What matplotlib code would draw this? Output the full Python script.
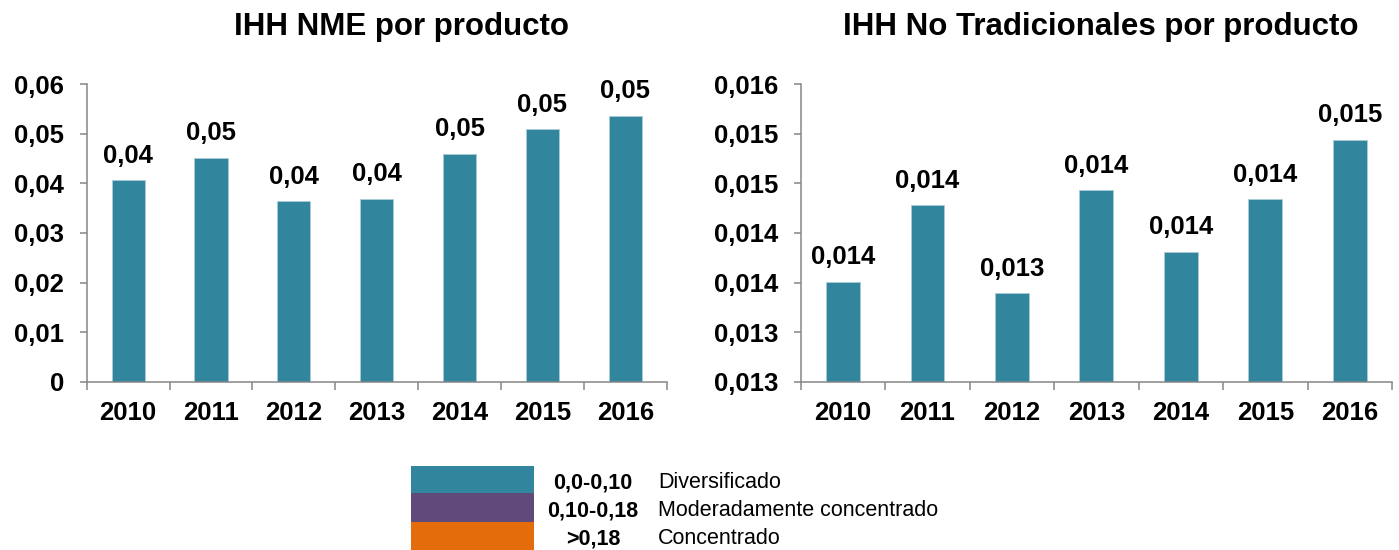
import matplotlib
matplotlib.use("Agg")
import matplotlib.pyplot as plt
from matplotlib.patches import Rectangle

plt.rcParams['font.family'] = ['Liberation Sans', 'DejaVu Sans']

years = ["2010", "2011", "2012", "2013", "2014", "2015", "2016"]
nme_values = [0.0406, 0.0452, 0.0364, 0.0369, 0.0460, 0.0510, 0.0537]
nt_values = [0.01351, 0.01428, 0.01339, 0.01443, 0.01381, 0.01434, 0.01494]

nme_ticks = [0, 0.01, 0.02, 0.03, 0.04, 0.05, 0.06]
nme_tick_labels = ["0", "0,01", "0,02", "0,03", "0,04", "0,05", "0,06"]
nt_ticks = [0.0125, 0.0130, 0.0135, 0.0140, 0.0145, 0.0150, 0.0155]
nt_tick_labels = ["0,013", "0,013", "0,014", "0,014", "0,015", "0,015", "0,016"]

legend_ranges = ["0,0-0,10", "0,10-0,18", ">0,18"]
legend_labels = ["Diversificado", "Moderadamente concentrado", "Concentrado"]
legend_colors = ["#31859C", "#604A7B", "#E46C0A"]

title_left = "IHH NME por producto"
title_right = "IHH No Tradicionales por producto"

BAR = "#31859C"
GRAY = "#868686"
FS = 18.5
W, H = 1399, 550
fig = plt.figure(figsize=(W / 100, H / 100), dpi=100)


def px_axes(x0, y0, x1, y1):
    return fig.add_axes([x0 / W, 1 - y1 / H, (x1 - x0) / W, (y1 - y0) / H])


def draw(ax, values, ticks, tick_labels, lo, hi, decimals):
    x = list(range(len(years)))
    ax.bar(x, [v - lo for v in values], bottom=lo, width=0.4, color=BAR,
           edgecolor="#A9CCD6", linewidth=0.6, zorder=2)
    ax.set_ylim(lo, hi)
    ax.set_xlim(-0.5, len(years) - 0.5)
    ax.set_yticks(ticks)
    ax.set_yticklabels(tick_labels, fontsize=FS, fontweight="bold")
    ax.set_xticks([i - 0.5 for i in range(len(years) + 1)])
    ax.set_xticklabels([])
    ax.set_xticks(x, minor=True)
    ax.set_xticklabels(years, minor=True, fontsize=FS, fontweight="bold")
    ax.tick_params(axis="x", which="major", length=5.5, color=GRAY, width=1.1)
    ax.tick_params(axis="x", which="minor", length=0, pad=14)
    ax.tick_params(axis="y", length=5.3, color=GRAY, width=1.1, pad=11)
    for s in ["top", "right"]:
        ax.spines[s].set_visible(False)
    for s in ["left", "bottom"]:
        ax.spines[s].set_color(GRAY)
        ax.spines[s].set_linewidth(1.1)
    for xi, v in zip(x, values):
        txt = f"{v:.{decimals}f}".replace(".", ",")
        ax.annotate(txt, (xi, v), xytext=(0, 12.5), textcoords="offset points",
                    ha="center", va="baseline", fontsize=FS, fontweight="bold")


ax1 = px_axes(86.7, 84.3, 666.7, 381.7)
draw(ax1, nme_values, nme_ticks, nme_tick_labels, 0, 0.06, 2)
ax2 = px_axes(800.7, 84.3, 1392, 381.7)
draw(ax2, nt_values, nt_ticks, nt_tick_labels, 0.0125, 0.0155, 3)

fig.text(401 / W, 1 - 35 / H, title_left, ha="center", va="baseline",
         fontsize=22.5, fontweight="bold")
fig.text(1101 / W, 1 - 35 / H, title_right, ha="center", va="baseline",
         fontsize=22.5, fontweight="bold")

# legend
lax = px_axes(400, 460, 1000, 550)
lax.set_xlim(400, 1000)
lax.set_ylim(550, 460)
lax.axis("off")
row_tops = [466, 492.7, 521.7]
row_bottoms = [492.7, 521.7, 550]
text_y = [488, 516.5, 544.5]
for r, lab, c, t, b, ty in zip(legend_ranges, legend_labels, legend_colors,
                                row_tops, row_bottoms, text_y):
    lax.add_patch(Rectangle((411, t), 123, b - t, color=c, lw=0))
    lax.text(593, ty, r, ha="center", va="baseline", fontsize=15.5,
             fontweight="bold")
    lax.text(658, ty, lab, ha="left", va="baseline", fontsize=15.5)

fig.savefig("out.png", dpi=100)
